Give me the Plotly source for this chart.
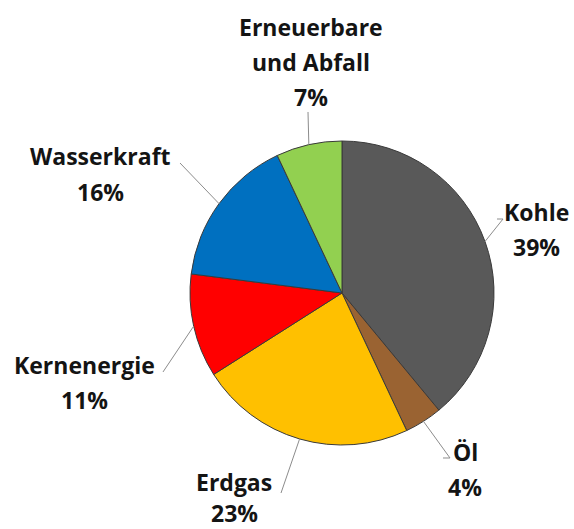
import math
import plotly.graph_objects as go

# Data
labels = ["Kohle", "Öl", "Erdgas", "Kernenergie", "Wasserkraft", "Erneuerbare und Abfall"]
label_lines = [["Kohle"], ["Öl"], ["Erdgas"], ["Kernenergie"], ["Wasserkraft"], ["Erneuerbare", "und Abfall"]]
values = [39, 4, 23, 11, 16, 7]
colors = ["#595959", "#9A6332", "#FFC000", "#FF0000", "#0070C0", "#92D050"]

W, H = 574, 529
CX, CY, R = 342, 293, 152  # pie centre / radius in px

def px(x, y):
    return x / W, 1 - y / H

# label layout: text x centre and line y centres, leader line outer ends (px)
text_x = {"Kohle": 536, "Öl": 465, "Erdgas": 234, "Kernenergie": 84,
          "Wasserkraft": 100, "Erneuerbare und Abfall": 311}
text_ys = {"Kohle": [212, 247], "Öl": [452, 487], "Erdgas": [482, 513],
           "Kernenergie": [365, 400], "Wasserkraft": [156, 192],
           "Erneuerbare und Abfall": [27, 62, 97]}
leader_out = {
    "Kohle": [(503, 219), (497, 219)],
    "Öl": [(450, 458), (443, 458)],
    "Erdgas": [(281, 493)],
    "Kernenergie": [(163, 372)],
    "Wasserkraft": [(180, 163)],
    "Erneuerbare und Abfall": [(308, 112)],
}

fig = go.Figure(go.Pie(
    labels=labels, values=values, sort=False, direction="clockwise", rotation=0,
    marker=dict(colors=colors, line=dict(color="#3a3a3a", width=1)),
    textinfo="none", showlegend=False, hoverinfo="label+percent",
    domain=dict(x=[(CX - R) / W, (CX + R) / W], y=[1 - (CY + R) / H, 1 - (CY - R) / H]),
))

total = sum(values)
cum = 0
shapes, annotations = [], []
for lab, lines, v in zip(labels, label_lines, values):
    mid = (cum + v / 2) / total * 2 * math.pi
    cum += v
    ix, iy = CX + R * math.sin(mid), CY - R * math.cos(mid)
    pts = [(ix, iy)] + leader_out[lab]
    path = "M " + " L ".join(f"{px(x, y)[0]:.5f},{px(x, y)[1]:.5f}" for x, y in pts)
    shapes.append(dict(type="path", xref="paper", yref="paper", path=path,
                       line=dict(color="#8c8c8c", width=1)))
    all_lines = lines + [f"{round(v / total * 100)}%"]
    for line, ly in zip(all_lines, text_ys[lab]):
        tx, ty = px(text_x[lab], ly)
        annotations.append(dict(x=tx, y=ty, xref="paper", yref="paper", showarrow=False,
                                xanchor="center", yanchor="middle", align="center",
                                text=f"<b>{line}</b>",
                                font=dict(family="Open Sans", size=23, color="#141414")))

fig.update_layout(width=W, height=H, margin=dict(l=0, r=0, t=0, b=0),
                  paper_bgcolor="white", plot_bgcolor="white",
                  shapes=shapes, annotations=annotations)
fig.write_html("out.html", config={"displayModeBar": False},
               post_script="document.body.style.margin='0px';")
